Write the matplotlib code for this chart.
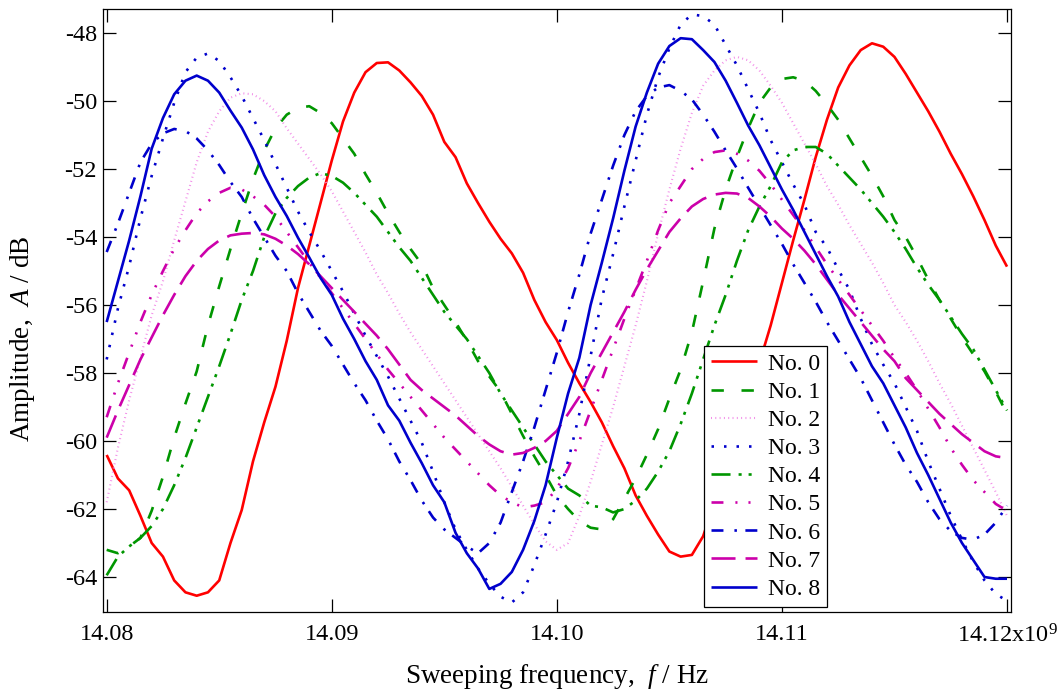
import matplotlib
matplotlib.use("Agg")
import matplotlib.pyplot as plt

plt.rcParams['font.family'] = ['Liberation Serif', 'DejaVu Serif']
plt.rcParams['mathtext.fontset'] = 'custom'
plt.rcParams['mathtext.rm'] = 'Liberation Serif'
plt.rcParams['mathtext.it'] = 'Liberation Serif:italic'
plt.rcParams['lines.scale_dashes'] = False

# Sweeping frequency in GHz (axis shows x10^9 Hz), 0.5 MHz sampling
freq = [round(14.080 + 0.0005 * k, 4) for k in range(81)]

no0 = [-60.41, -61.1, -61.45, -62.2, -63.0, -63.4, -64.1, -64.45, -64.55, -64.45,
       -64.1, -63.0, -62.03, -60.6, -59.45, -58.4, -57.05, -55.5, -54.25, -53.0,
       -51.75, -50.6, -49.75, -49.15, -48.88, -48.86, -49.1, -49.45, -49.85, -50.4,
       -51.2, -51.65, -52.42, -53.0, -53.55, -54.05, -54.48, -55.05, -55.85, -56.5,
       -57.03, -57.7, -58.3, -58.85, -59.45, -60.15, -60.8, -61.6, -62.2, -62.75,
       -63.25, -63.4, -63.35, -62.8, -61.8, -60.8, -59.75, -58.75, -57.7, -56.6,
       -55.35, -54.1, -52.9, -51.65, -50.55, -49.6, -48.95, -48.5, -48.3, -48.4,
       -48.7, -49.2, -49.75, -50.3, -50.9, -51.55, -52.15, -52.8, -53.5, -54.25,
       -54.87]
no1 = [-63.2, -63.3, -63.1, -62.85, -62.05, -61.05, -59.9, -58.9, -57.95, -56.6,
       -55.45, -54.35, -53.3, -52.3, -51.45, -50.8, -50.4, -50.2, -50.15, -50.35,
       -50.65, -51.1, -51.55, -52.15, -52.7, -53.3, -53.85, -54.35, -54.8, -55.5,
       -56.0, -56.5, -57.05, -57.65, -58.1, -58.55, -59.2, -59.85, -60.45, -61.0,
       -61.6, -62.0, -62.35, -62.55, -62.6, -62.3, -61.7, -61.1, -60.4, -59.65,
       -58.75, -57.9, -56.8, -55.3, -53.75, -52.6, -51.65, -50.8, -50.05, -49.6,
       -49.35, -49.3, -49.4, -49.7, -50.1, -50.55, -51.1, -51.65, -52.2, -52.8,
       -53.5, -54.0, -54.6, -55.25, -55.85, -56.4, -56.95, -57.45, -57.95, -58.55,
       -59.2]
no2 = [-61.8, -60.2, -58.8, -57.55, -56.3, -55.3, -54.1, -52.95, -51.8, -50.9,
       -50.3, -49.9, -49.77, -49.8, -50.0, -50.3, -50.8, -51.25, -51.7, -52.15,
       -52.65, -53.25, -53.85, -54.45, -55.1, -55.65, -56.25, -56.8, -57.3, -57.8,
       -58.3, -58.8, -59.3, -59.8, -60.3, -60.8, -61.35, -61.9, -62.45, -62.95,
       -63.2, -63.0, -62.2, -61.2, -60.1, -59.0, -57.8, -56.6, -55.3, -53.9,
       -52.6, -51.4, -50.35, -49.55, -49.1, -48.8, -48.7, -48.8, -49.1, -49.55,
       -50.05, -50.65, -51.25, -51.85, -52.5, -53.05, -53.65, -54.2, -54.75, -55.35,
       -56.0, -56.5, -57.05, -57.65, -58.3, -58.9, -59.55, -60.2, -60.85, -61.5,
       -62.2]
no3 = [-57.6, -56.1, -54.85, -53.45, -52.2, -51.1, -50.05, -49.15, -48.72, -48.6,
       -48.82, -49.3, -49.85, -50.5, -51.15, -51.85, -52.55, -53.25, -53.85, -54.4,
       -55.0, -55.6, -56.25, -56.9, -57.5, -58.1, -58.75, -59.4, -60.05, -60.9,
       -61.8, -62.6, -63.2, -63.75, -64.2, -64.58, -64.75, -64.45, -63.65, -62.75,
       -61.8, -60.6, -59.2, -57.5, -55.8, -54.5, -53.1, -51.75, -50.4, -49.3,
       -48.45, -47.75, -47.45, -47.5, -47.75, -48.35, -48.95, -49.65, -50.35, -51.15,
       -51.8, -52.45, -53.05, -53.85, -54.3, -54.95, -55.55, -56.4, -57.15, -57.75,
       -58.3, -59.0, -59.7, -60.6, -61.4, -62.2, -62.9, -63.55, -64.1, -64.5,
       -64.7]
no4 = [-63.95, -63.4, -63.1, -62.85, -62.5, -62.0, -61.3, -60.5, -59.6, -58.7,
       -57.8, -56.85, -55.85, -55.0, -54.0, -53.3, -52.85, -52.5, -52.25, -52.12,
       -52.2, -52.4, -52.7, -53.05, -53.4, -53.85, -54.3, -54.7, -55.2, -55.7,
       -56.2, -56.6, -57.0, -57.5, -58.0, -58.6, -59.1, -59.6, -60.1, -60.6,
       -61.0, -61.4, -61.6, -61.9, -61.95, -62.1, -62.0, -61.75, -61.4, -60.9,
       -60.3, -59.5, -58.6, -57.6, -56.6, -55.7, -54.7, -53.8, -53.1, -52.5,
       -51.8, -51.45, -51.35, -51.35, -51.55, -51.9, -52.25, -52.6, -53.0, -53.4,
       -53.85, -54.35, -54.9, -55.4, -55.85, -56.35, -56.85, -57.3, -57.9, -58.5,
       -59.1]
no5 = [-59.3, -58.3, -57.4, -56.5, -55.7, -55.0, -54.35, -53.8, -53.3, -52.95,
       -52.7, -52.55, -52.6, -52.8, -53.05, -53.4, -53.85, -54.3, -54.75, -55.2,
       -55.65, -56.1, -56.55, -57.0, -57.45, -57.9, -58.3, -58.7, -59.1, -59.5,
       -59.9, -60.25, -60.6, -60.95, -61.3, -61.6, -61.8, -61.95, -61.9, -61.8,
       -61.4, -60.8, -60.0, -59.1, -58.2, -57.3, -56.4, -55.55, -54.7, -53.8,
       -53.0, -52.5, -52.0, -51.7, -51.5, -51.45, -51.55, -51.75, -52.05, -52.45,
       -52.9, -53.35, -53.8, -54.3, -54.8, -55.25, -55.7, -56.15, -56.6, -57.05,
       -57.55, -58.0, -58.5, -59.05, -59.6, -60.2, -60.7, -61.15, -61.5, -61.85,
       -62.05]
no6 = [-54.44, -53.6, -52.7, -51.8, -51.25, -50.95, -50.82, -50.88, -51.1, -51.45,
       -51.88, -52.38, -52.82, -53.45, -54.0, -54.55, -55.0, -55.65, -56.2, -56.75,
       -57.2, -57.75, -58.3, -58.8, -59.4, -59.95, -60.6, -61.15, -61.75, -62.25,
       -62.6, -62.85, -63.1, -63.3, -63.0, -62.4, -61.5, -60.6, -59.6, -58.5,
       -57.4, -56.2, -55.1, -53.9, -52.9, -51.9, -51.0, -50.3, -49.85, -49.6,
       -49.53, -49.7, -49.95, -50.4, -50.9, -51.45, -51.98, -52.55, -53.1, -53.65,
       -54.2, -54.8, -55.35, -55.9, -56.5, -57.05, -57.6, -58.15, -58.8, -59.45,
       -60.1, -60.7, -61.2, -61.8, -62.3, -62.65, -62.85, -62.9, -62.75, -62.4,
       -61.9]
no7 = [-59.9, -59.1, -58.35, -57.6, -56.95, -56.3, -55.7, -55.15, -54.7, -54.35,
       -54.1, -53.95, -53.9, -53.88, -53.92, -54.05, -54.25, -54.5, -54.8, -55.15,
       -55.5, -55.85, -56.2, -56.55, -56.9, -57.3, -57.75, -58.2, -58.5, -58.75,
       -59.0, -59.25, -59.55, -59.85, -60.1, -60.3, -60.4, -60.35, -60.2, -60.0,
       -59.7, -59.2, -58.7, -58.0, -57.4, -56.8, -56.2, -55.55, -54.95, -54.4,
       -53.85, -53.45, -53.1, -52.88, -52.75, -52.7, -52.72, -52.85, -53.1, -53.4,
       -53.75, -54.05, -54.4, -54.8, -55.25, -55.7, -56.1, -56.5, -56.9, -57.3,
       -57.65, -58.15, -58.5, -58.85, -59.2, -59.5, -59.8, -60.05, -60.3, -60.45,
       -60.5]
no8 = [-56.5, -55.3, -54.1, -52.8, -51.4, -50.5, -49.8, -49.4, -49.25, -49.4,
       -49.75, -50.28, -50.78, -51.42, -52.18, -52.82, -53.38, -54.02, -54.6, -55.2,
       -55.7, -56.4, -57.0, -57.65, -58.2, -58.95, -59.4, -60.05, -60.65, -61.3,
       -61.8, -62.7, -63.3, -63.75, -64.35, -64.2, -63.85, -63.2, -62.35, -61.3,
       -59.9, -58.6, -57.55, -56.0, -54.75, -53.45, -52.05, -50.75, -49.75, -48.9,
       -48.38, -48.15, -48.18, -48.5, -48.85, -49.4, -50.05, -50.72, -51.3, -51.95,
       -52.6, -53.2, -53.85, -54.5, -55.15, -55.75, -56.5, -57.15, -57.8, -58.3,
       -58.95, -59.6, -60.35, -61.0, -61.7, -62.4, -63.0, -63.5, -64.0, -64.05,
       -64.05]

labels = ['No. 0', 'No. 1', 'No. 2', 'No. 3', 'No. 4', 'No. 5', 'No. 6', 'No. 7', 'No. 8']
series = [no0, no1, no2, no3, no4, no5, no6, no7, no8]
colors = ['#ff0000', '#009600', '#f28ce8', '#0000cc', '#009600', '#cc00aa', '#0000cc', '#cc00aa', '#0000cc']
styles = ['-',
          (0, (8.9, 12.7)),
          (0, (0.7, 2.4)),
          (0, (1.8, 7.2)),
          (0, (13.7, 5.8, 2.2, 5.0, 2.2, 5.8)),
          (0, (8.6, 8.6, 1.5, 7.9, 1.5, 8.6)),
          (0, (8.6, 7.9, 1.8, 6.1)),
          (0, (17.3, 7.2)),
          '-']
widths = [1.9, 1.9, 1.5, 1.9, 1.9, 1.9, 1.9, 1.9, 1.9]

xticks = [14.08, 14.09, 14.10, 14.11, 14.12]
xticklabels = ['14.08', '14.09', '14.10', '14.11', '14.12x10$^{9}$']
yticks = [-64, -62, -60, -58, -56, -54, -52, -50, -48]

fig = plt.figure(figsize=(10.59, 6.93), dpi=100)
ax = fig.add_axes([0.09754, 0.11732, 0.85685, 0.86926])

for y, lab, c, ls, lw in zip(series, labels, colors, styles, widths):
    ax.plot(freq, y, color=c, linestyle=ls, linewidth=lw, label=lab,
            dash_capstyle='butt', solid_capstyle='butt', solid_joinstyle='round')

ax.set_xlim(14.07985, 14.120164)
ax.set_ylim(-65.02, -47.30)
ax.set_xticks(xticks)
ax.set_xticklabels(xticklabels)
ax.set_yticks(yticks)
ax.set_yticklabels([str(v) for v in yticks])
ax.tick_params(direction='in', length=9.5, width=0.9, labelsize=17.5,
               top=True, right=True, color='black')
ax.tick_params(axis='x', pad=9)
ax.tick_params(axis='y', pad=4.5)
for sp in ax.spines.values():
    sp.set_linewidth(0.9)

ax.set_xlabel('Sweeping frequency,  $f$ / Hz', fontsize=19.5)
ax.set_ylabel('Amplitude,  $A$ / dB', fontsize=19.5)
ax.xaxis.set_label_coords(0.5, -0.083)
ax.yaxis.set_label_coords(-0.073, 0.453)

leg = ax.legend(loc='lower left', bbox_to_anchor=(0.662, 0.008), borderaxespad=0,
                fontsize=17, frameon=True, fancybox=False, framealpha=1,
                edgecolor='black', handlelength=1.95, handletextpad=0.45,
                labelspacing=0.28, borderpad=0.3)
leg.get_frame().set_linewidth(0.9)

fig.savefig('out.png', dpi=100)
